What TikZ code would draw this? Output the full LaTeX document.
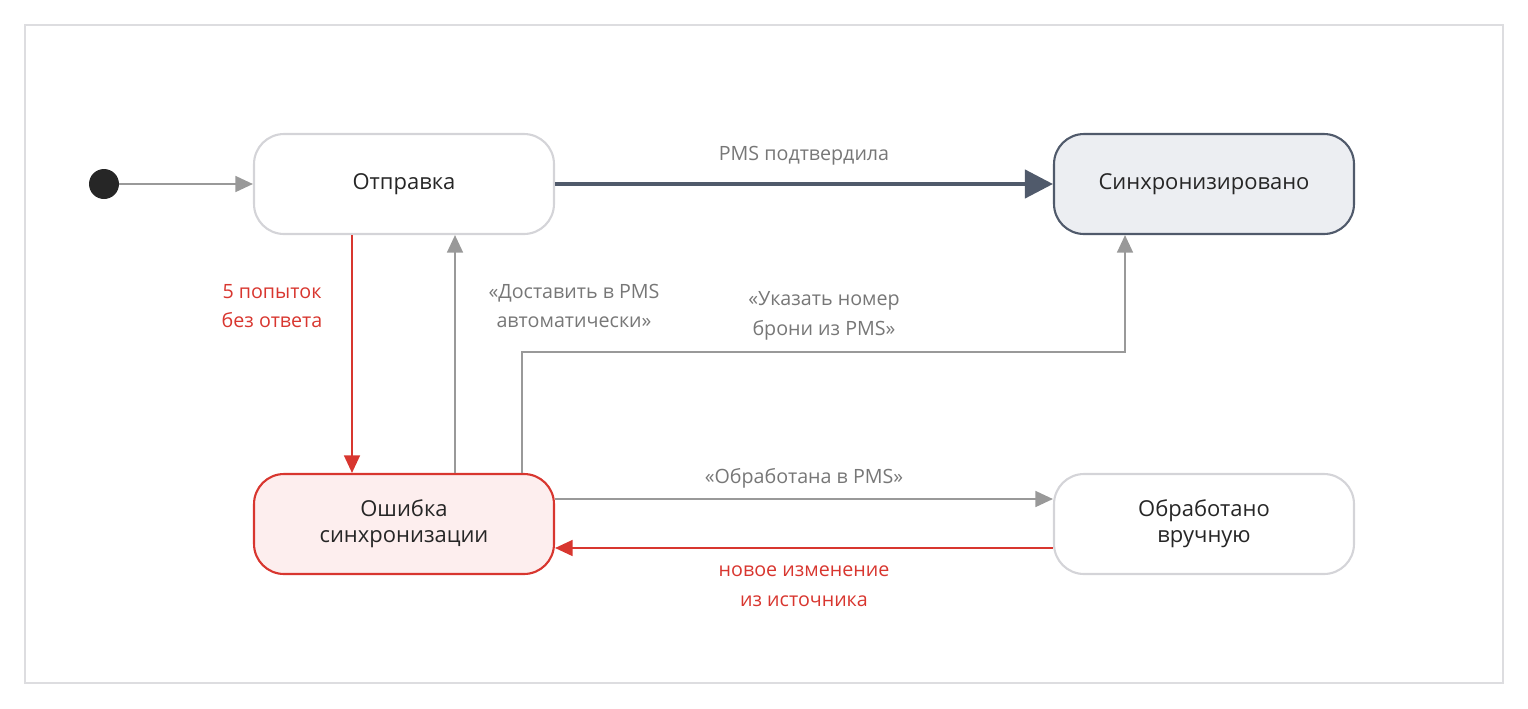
\documentclass[tikz,border=0pt]{standalone}
\usepackage{fontspec}
\setmainfont{Open Sans}
\usepackage{xcolor}
\usetikzlibrary{arrows.meta,positioning}

\definecolor{edgegray}{HTML}{999999}
\definecolor{boxgray}{HTML}{D4D4D8}
\definecolor{slate}{HTML}{505A6B}
\definecolor{slatefill}{HTML}{ECEEF2}
\definecolor{errred}{HTML}{D8362F}
\definecolor{errfill}{HTML}{FDEEEE}
\definecolor{txtgray}{HTML}{777777}

\tikzset{
  state/.style={draw=boxgray, line width=1.2pt, rounded corners=0.6cm,
    minimum width=6cm, minimum height=2cm, align=center,
    font=\fontsize{12.5}{15}\selectfont, text=black!85},
  lbl/.style={align=center, font=\fontsize{11.2}{17}\selectfont, text=txtgray},
  flow/.style={draw=edgegray, line width=1.2pt, -{Triangle[length=10pt,width=9pt]}},
}

\begin{document}
\begin{tikzpicture}[x=0.02cm,y=-0.02cm]
\useasboundingbox (0,0) rectangle (1528,708);
\draw[boxgray!80, line width=0.6pt] (25,25) rectangle (1503,683);

\node[circle, fill=black!85, minimum size=0.6cm, inner sep=0pt] (start) at (104,184) {};
\node[state] (send) at (404,184) {Отправка};
\node[state, draw=slate, fill=slatefill] (synced) at (1204,184) {Синхронизировано};
\node[state, draw=errred, fill=errfill] (error) at (404,524) {Ошибка\\синхронизации};
\node[state] (manual) at (1204,524) {Обработано\\вручную};

% transitions
\draw[flow] (start) -- (send);
\draw[slate, line width=2.4pt, -{Triangle[length=16pt,width=16pt]}] (send) -- (synced)
  node[lbl, midway, above=6pt] {PMS подтвердила};
\draw[flow, draw=errred] (send.south -| 352,0) -- (error.north -| 352,0);
\node[lbl, text=errred] (retry) at (272,306) {5 попыток\\без ответа};
\draw[flow] (error.north -| 455,0) -- (send.south -| 455,0);
\node[lbl] (auto) at (574,306) {«Доставить в PMS\\автоматически»};
\coordinate (bend) at (522,352);
\draw[flow] (error.north -| bend) -- (bend) -| (synced.south -| 1125,0);
\node[lbl] (number) at (824,316) {«Указать номер\\брони из PMS»};
\draw[flow] (error.east |- 0,499) -- (manual.west |- 0,499)
  node[lbl, midway, above=2pt] {«Обработана в PMS»};
\draw[flow, draw=errred] (manual.west |- 0,548) -- (error.east |- 0,548);
\node[lbl, text=errred] (change) at (804,586) {новое изменение\\из источника};
\end{tikzpicture}
\end{document}
